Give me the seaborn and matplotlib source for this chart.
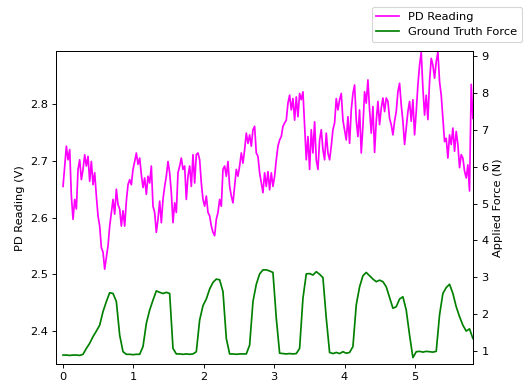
import numpy as np
import pandas as pd
import matplotlib
matplotlib.use("Agg")
import matplotlib.pyplot as plt
import seaborn as sns

# ---- data ----
time_start = 0.0
time_end = 5.824

pd_reading = [
    2.655, 2.691, 2.726, 2.702, 2.720, 2.638, 2.597, 2.632, 2.615, 2.685,
    2.702, 2.667, 2.685, 2.711, 2.691, 2.708, 2.664, 2.699, 2.658, 2.679,
    2.638, 2.603, 2.585, 2.547, 2.539, 2.509, 2.530, 2.550, 2.585, 2.609,
    2.632, 2.606, 2.650, 2.623, 2.615, 2.585, 2.612, 2.585, 2.629, 2.658,
    2.667, 2.658, 2.685, 2.699, 2.714, 2.694, 2.705, 2.676, 2.653, 2.670,
    2.641, 2.673, 2.661, 2.691, 2.620, 2.609, 2.574, 2.597, 2.629,
    2.591, 2.632, 2.655, 2.673, 2.699, 2.679, 2.644, 2.591, 2.626, 2.609,
    2.679, 2.691, 2.705, 2.685, 2.691, 2.632, 2.673, 2.691, 2.655, 2.711,
    2.661, 2.711, 2.714, 2.702, 2.661, 2.632, 2.620, 2.638, 2.609, 2.603,
    2.585, 2.574, 2.568, 2.597, 2.609, 2.632, 2.620, 2.685, 2.691, 2.673,
    2.699, 2.655, 2.638, 2.626, 2.655, 2.685, 2.673, 2.691, 2.714, 2.696,
    2.720, 2.749, 2.731, 2.746, 2.726, 2.755, 2.761, 2.714, 2.708, 2.679,
    2.661, 2.644, 2.679, 2.655, 2.681, 2.649,
    2.679, 2.655, 2.673, 2.702, 2.726, 2.737, 2.743, 2.761, 2.767, 2.772,
    2.802, 2.816, 2.790, 2.810, 2.772, 2.813, 2.778, 2.819, 2.808, 2.822,
    2.761, 2.702, 2.743, 2.685, 2.755, 2.714, 2.769, 2.702, 2.685, 2.737,
    2.755, 2.720, 2.702, 2.749, 2.714, 2.702, 2.726, 2.755, 2.767, 2.810,
    2.790, 2.808, 2.819, 2.772, 2.755, 2.737, 2.778, 2.731, 2.790, 2.819,
    2.834, 2.772, 2.743, 2.790, 2.714, 2.761, 2.822, 2.802, 2.843, 2.790,
    2.749, 2.796, 2.715,
    2.770, 2.805, 2.764, 2.793, 2.811, 2.787, 2.811, 2.805, 2.775, 2.764,
    2.746, 2.770, 2.787, 2.822, 2.837, 2.799, 2.770, 2.729, 2.758, 2.787,
    2.805, 2.770, 2.808, 2.746, 2.787, 2.834, 2.869, 2.892, 2.828, 2.781,
    2.816, 2.773, 2.840, 2.881, 2.869, 2.846, 2.875, 2.892, 2.840, 2.816,
    2.775, 2.734, 2.740, 2.705, 2.746, 2.729, 2.758, 2.717, 2.752, 2.729,
    2.688, 2.711, 2.705, 2.682, 2.670, 2.693, 2.647, 2.835, 2.775,
]

force = [
    0.89, 0.89, 0.88, 0.89, 0.89, 0.88, 0.91, 1.07, 1.21, 1.39,
    1.54, 1.70, 2.07, 2.34, 2.58, 2.56, 2.34, 1.43, 0.98, 0.91,
    0.91, 0.90, 0.91, 0.91, 1.12, 1.75, 2.11, 2.38, 2.63, 2.59,
    2.56, 2.59, 2.56, 1.07, 0.92, 0.92, 0.91, 0.92, 0.91, 0.92,
    0.98, 1.84, 2.23, 2.41, 2.68, 2.86, 2.95, 2.93, 2.61, 1.34,
    0.92, 0.92, 0.91, 0.92, 0.92, 0.92, 1.16, 2.34, 2.81, 3.09,
    3.20, 3.20, 3.17, 3.13, 1.89, 0.94, 0.93, 0.92, 0.93, 0.92,
    0.93, 1.07, 2.43, 3.09, 3.10, 3.06, 3.15, 3.08, 2.99, 1.89,
    0.96, 0.93, 0.96, 0.93, 0.98, 0.94, 0.96, 1.12, 2.25, 2.74,
    3.04, 3.13, 3.04, 2.95, 2.88, 2.92, 2.88, 2.74, 2.45, 2.16,
    2.20, 2.41, 2.47, 2.11, 1.43, 0.82, 0.98, 0.99, 0.97, 0.99,
    0.98, 0.97, 0.99, 1.98, 2.56, 2.72, 2.81, 2.56, 2.20, 1.93,
    1.70, 1.54, 1.60, 1.34,
]

x_ticks = [0, 1, 2, 3, 4, 5]
left_ticks = [2.4, 2.5, 2.6, 2.7, 2.8]
right_ticks = [1, 2, 3, 4, 5, 6, 7, 8, 9]

t_pd = np.linspace(time_start, time_end, len(pd_reading))
t_force = np.linspace(time_start, time_end, len(force))
df_pd = pd.DataFrame({"t": t_pd, "v": pd_reading})
df_f = pd.DataFrame({"t": t_force, "f": force})

DPI = 82.35
fig = plt.figure(figsize=(527 / DPI, 383 / DPI), dpi=DPI)
ax = fig.add_axes([56 / 527, 1 - 364.3 / 383, (473.3 - 56) / 527, (364.3 - 51) / 383])
ax2 = ax.twinx()

sns.lineplot(data=df_pd, x="t", y="v", ax=ax, color="magenta", lw=1.9,
             estimator=None, sort=False, label="PD Reading", legend=False)
sns.lineplot(data=df_f, x="t", y="f", ax=ax2, color="green", lw=1.6,
             estimator=None, sort=False, label="Ground Truth Force", legend=False)

ax.set_xlim(-0.1, 5.83)
ax.set_ylim(2.341, 2.894)
ax2.set_ylim(0.639, 9.136)
ax.set_xticks(x_ticks)
ax.set_xticklabels([str(v) for v in x_ticks])
ax.set_yticks(left_ticks)
ax2.set_yticks(right_ticks)
ax.set_xlabel("")
ax.set_ylabel("PD Reading (V)")
ax2.set_ylabel("Applied Force (N)")

h1, l1 = ax.get_legend_handles_labels()
h2, l2 = ax2.get_legend_handles_labels()
for h in h1 + h2:
    h.set_linewidth(1.5)
fig.legend(h1 + h2, l1 + l2, loc="upper right",
           bbox_to_anchor=(522 / 527, 1 - 7 / 383), borderaxespad=0)

fig.savefig("out.png", dpi=DPI)
